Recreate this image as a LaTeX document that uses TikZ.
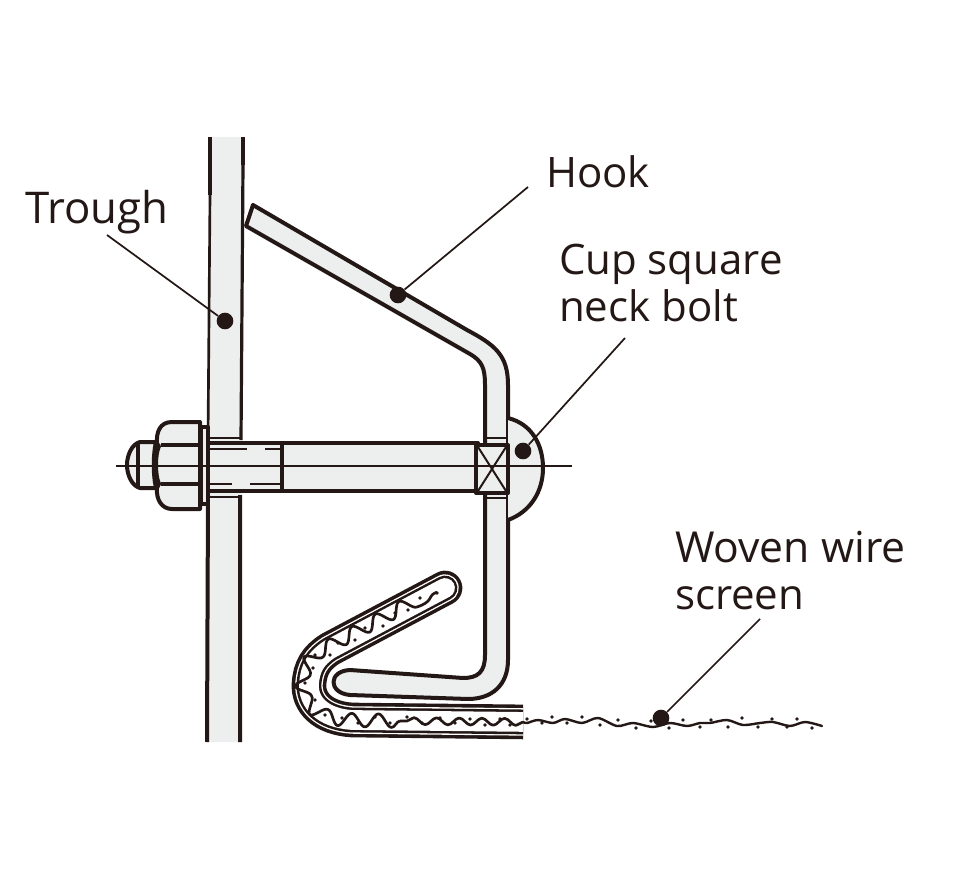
\documentclass[tikz,border=0pt]{standalone}
\usepackage{fontspec}
\setmainfont{Open Sans}
\usetikzlibrary{decorations.pathmorphing}
\definecolor{ink}{HTML}{231815}
\definecolor{steel}{HTML}{EDEFEE}
\tikzset{
  x=0.75pt,y=-0.75pt,
  part/.style={draw=ink,fill=steel,line width=3pt,line join=round},
  heavy/.style={draw=ink,line width=3pt,line join=round},
  fine/.style={draw=ink,line width=1.5pt},
  centre/.style={draw=ink,line width=0.9pt},
  label/.style={inner sep=0pt,outer sep=0pt,font=\fontsize{31.5}{35.2}\selectfont,text=ink,align=left,anchor=base west},
  leader/.style={draw=ink,line width=1.3pt},
  dotnode/.style={circle,fill=ink,inner sep=0pt,minimum size=12.5pt},
  speck/.style={fill=ink},
}
\begin{document}
\begin{tikzpicture}
\useasboundingbox (0,0) rectangle (960,880);
% trough
\path[fill=steel] (210,137) -- (243,137) -- (241,742) -- (208,742) -- cycle;
\draw[heavy] (210,137) -- (210,195);
\draw[heavy,line width=2pt] (210,195) -- (208,440);
\draw[heavy] (243,137) -- (243,165);
\draw[heavy,line width=2.4pt] (243,165) -- (241,440);
\draw[heavy] (208,495) -- (207,742) (240,495) -- (240,742);
\draw[fine] (209,438) -- (241,438) (209,497) -- (240,497);
% hook
\path[part] (253,205) -- (467,330) .. controls (495,345) and (508,355) .. (508,385)
  -- (508,660) .. controls (508,685) and (492,699) .. (468,699)
  -- (350,695) .. controls (328,693) and (328,671) .. (350,670)
  -- (463,678) .. controls (478,678) and (485,672) .. (485,655)
  -- (485,385) .. controls (485,368) and (482,361) .. (470,354)
  -- (246,226) -- cycle;
\draw[fine] (485,438) -- (508,438) (485,498) -- (508,498);
% cup head
\path[part] (508,418) .. controls (532,424) and (543,445) .. (543,468)
  .. controls (543,492) and (530,512) .. (508,520);
% bolt shaft
\path[part] (208,443) rectangle (478,491);
\draw[heavy] (282,444) -- (282,490);
\draw[fine] (210,449) -- (247,449) (265,449) -- (281,449) (210,484) -- (232,484) (250,484) -- (281,484);
% square neck
\path[part] (476,445) rectangle (508,493);
\draw[fine] (478,447) -- (506,491) (506,447) -- (478,491);
% washer
\path[part] (201,427) rectangle (208,504);
% nut
\path[part] (200,422) -- (172,422) .. controls (160,422) and (156,432) .. (157,444)
  -- (159,446) .. controls (155,455) and (155,475) .. (159,484)
  -- (157,488) .. controls (156,500) and (162,509) .. (172,509) -- (200,509) -- cycle;
\draw[heavy] (161,445) -- (200,445) (161,484) -- (200,484);
% bolt tip
\path[part] (156,442) -- (140,442) .. controls (132,444) and (127,455) .. (127,465)
  .. controls (127,475) and (132,486) .. (140,488) -- (156,488) .. controls (153,475) and (153,455) .. (156,442) -- cycle;
\draw[heavy] (138,443) -- (138,487);
% centre line
\draw[centre] (116,466) -- (572,466);
% screen band
\begin{scope}
\clip (280,560) rectangle (523,745);
\def\band{(530,722) -- (352,720) .. controls (322,718) and (308,702) .. (309,684) .. controls (310,668) and (316,658) .. (330,649) -- (445,588)}
\draw[ink,line width=26pt,line cap=round] \band;
\draw[white,line width=20.6pt,line cap=round] \band;
\draw[ink,line width=18.6pt,line cap=round] \band;
\draw[white,line width=14.8pt,line cap=round] \band;
\draw[ink,line width=2pt,line join=round,decorate,decoration={snake,segment length=17pt,amplitude=2.6pt}]
  (523,722) -- (400,721);
\draw[ink,line width=2pt,line join=round,decorate,decoration={snake,segment length=20pt,amplitude=5pt}]
  (400,721) -- (352,720) .. controls (322,718) and (308,702) .. (309,684) .. controls (310,668) and (316,658) .. (330,649) -- (437,592);
\foreach \px/\py in {437/593,420/598,408/610,395/613,383/626,365/628,355/640,338/643,330/655,315/655,313/668,305/683,315/700,325/715,342/718,358/723,375/717,390/723,407/717,422/723,440/718,455/723,470/719,485/725,500/719,510/725}
  \fill[speck] (\px,\py) circle (1.4pt);
\end{scope}
% free wire
\draw[ink,line width=1.8pt,line cap=round] plot[smooth] coordinates {(523,722) (527,723) (538,720) (553,723) (565,719) (582,723) (598,718) (617,726) (633,723) (653,727) (670,723) (687,726) (700,723) (710,723) (727,720) (743,725) (760,723) (773,722) (790,726) (805,722) (822,726)};
\foreach \px/\py in {527/719,542/723,552/717,567/723,582/717,600/725,618/720,636/728,651/721,669/728,683/720,700/727,711/720,728/727,742/718,758/727,772/719,787/727,797/719,812/728}
  \fill[speck] (\px,\py) circle (1.4pt);
% labels
\node[label,font=\fontsize{32.8}{36}\selectfont] (trough) at (25,224) {Trough};
\node[label] (hook) at (546,188) {Hook};
\node[label] (cup) at (559,275) {Cup square};
\node[label] (neck) at (559,322) {neck bolt};
\node[label,font=\fontsize{32}{36}\selectfont] (woven) at (675,562) {Woven wire};
\node[label] (screen) at (675,609) {screen};
% leaders
\node[dotnode] (d1) at (225,321) {};
\node[dotnode] (d2) at (398,295) {};
\node[dotnode] (d3) at (523,451) {};
\node[dotnode] (d4) at (661,718) {};
\coordinate (s1) at (107,235);
\coordinate (s2) at (528,187);
\coordinate (s3) at (625,338);
\coordinate (s4) at (760,619);
\draw[leader] (s1) -- (d1);
\draw[leader] (s2) -- (d2);
\draw[leader] (s3) -- (d3);
\draw[leader] (s4) -- (d4);
\end{tikzpicture}
\end{document}
